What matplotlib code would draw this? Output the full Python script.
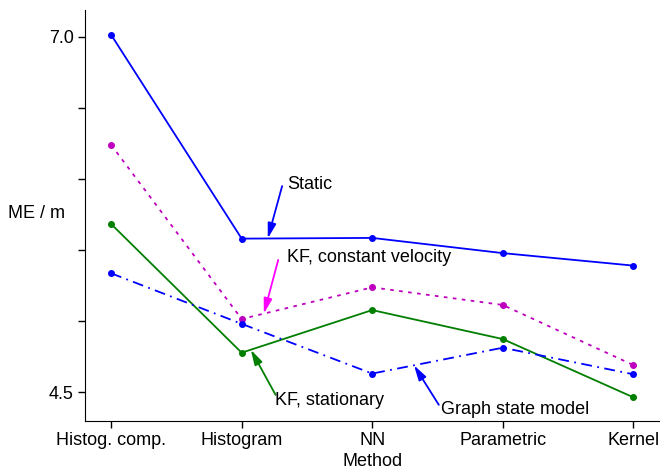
import numpy as np
import matplotlib
matplotlib.use("Agg")
import matplotlib.pyplot as plt

plt.rcParams['font.family'] = ['Liberation Sans', 'DejaVu Sans']

methods = ["Histog. comp.", "Histogram", "NN", "Parametric", "Kernel"]
static = [7.015, 5.58, 5.585, 5.478, 5.39]
kf_const_vel = [6.24, 5.014, 5.237, 5.113, 4.69]
kf_stationary = [5.683, 4.777, 5.077, 4.873, 4.463]
graph_state = [5.336, 4.98, 4.63, 4.812, 4.625]

idx = np.arange(len(methods))

fig = plt.figure(figsize=(6.61, 4.72), dpi=100)
ax = fig.add_axes([0.1286, 0.108, 0.869, 0.871])

ax.plot(idx, static, color='#0000ff', lw=1.3, marker='o', ms=4)
ax.plot(idx, kf_const_vel, color='#bf00bf', lw=1.3, ls=(0, (2, 3)), marker='o', ms=4)
ax.plot(idx, kf_stationary, color='#007f00', lw=1.3, marker='o', ms=4)
ax.plot(idx, graph_state, color='#0000ff', lw=1.3, ls=(0, (6, 3, 1, 3)), marker='o', ms=4)

ax.set_xlim(-0.2, 4.2)
ax.set_ylim(4.296, 7.19)
ax.set_xticks(idx)
ax.set_xticklabels(methods)
ax.set_yticks([4.5, 5.0, 5.5, 6.0, 6.5, 7.0])
ax.set_yticklabels(["4.5", "", "", "", "", "7.0"])
ax.tick_params(labelsize=13, length=5, width=1, direction='out', pad=3)
for side in ['top', 'right']:
    ax.spines[side].set_visible(False)

ax.set_xlabel("Method", fontsize=13, labelpad=3)
ax.set_ylabel("ME / m", fontsize=13, rotation=0, ha='center', va='center')
ax.yaxis.set_label_coords(-0.085, 0.506)


def label(series, head_x, tail, text_xy, text, color, arrow_color):
    head = (head_x, np.interp(head_x, idx, series))
    ax.annotate('', xy=head, xytext=tail,
                arrowprops=dict(arrowstyle='-|>,head_length=0.9,head_width=0.25',
                                color=arrow_color, lw=1.3, shrinkA=0, shrinkB=0))
    ax.text(text_xy[0], text_xy[1], text, fontsize=13, ha='left', va='center', color='black')


label(static, 1.20, (1.31, 5.95), (1.35, 5.96), "Static", 'k', '#0000ff')
label(kf_const_vel, 1.17, (1.28, 5.43), (1.35, 5.45), "KF, constant velocity", 'k', '#ff00ff')
label(kf_stationary, 1.07, (1.26, 4.48), (1.255, 4.44), "KF, stationary", 'k', '#007f00')
label(graph_state, 2.32, (2.51, 4.41), (2.53, 4.38), "Graph state model", 'k', '#0000ff')

fig.savefig("out.png", dpi=100)
